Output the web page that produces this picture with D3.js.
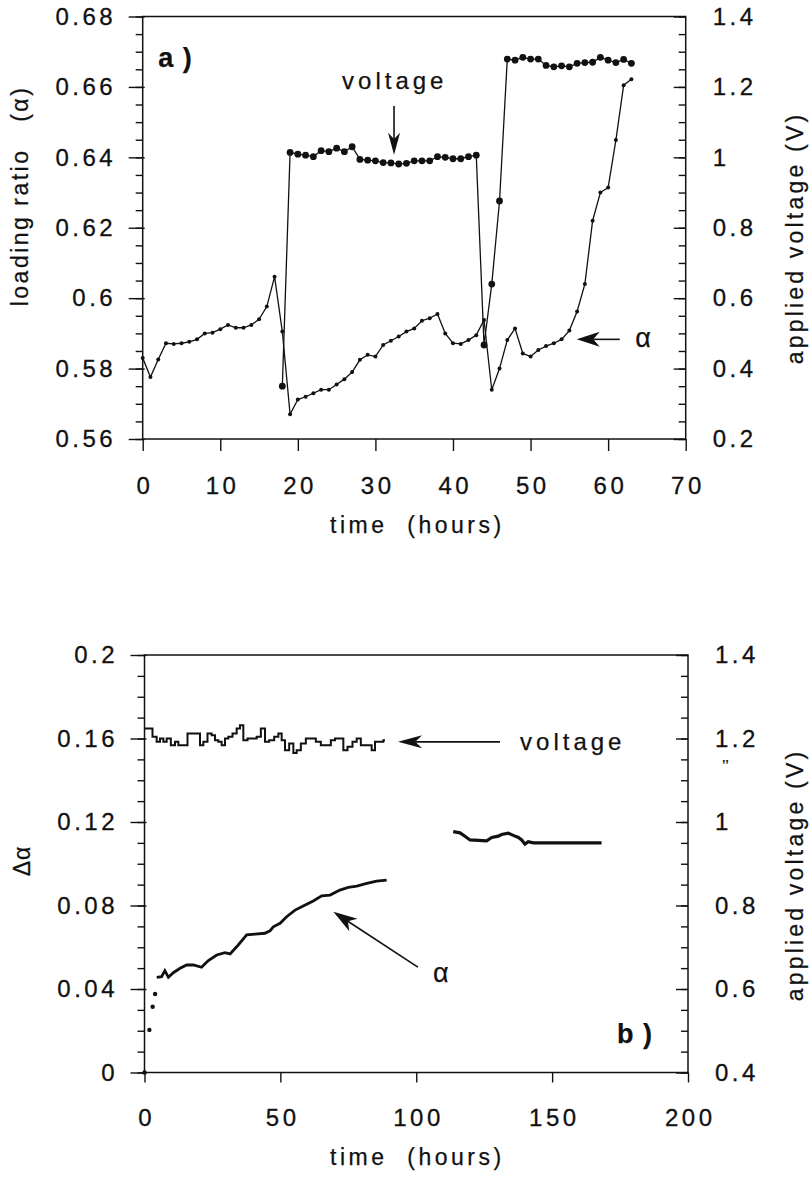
<!DOCTYPE html>
<html>
<head>
<meta charset="utf-8">
<script src="https://cdn.jsdelivr.net/npm/d3@7"></script>
<style>
body { margin: 0; background: #fff; }
text { font-family: "Liberation Sans", Arial, Helvetica, sans-serif; fill: #111; white-space: pre; }
</style>
</head>
<body>
<div id="chart"></div>
<script>
// ---- panel a) : hourly readings, loading ratio and applied voltage
var hoursA = [0, 1, 2, 3, 4, 5, 6, 7, 8, 9, 10, 11, 12, 13, 14, 15, 16, 17, 18, 19,
    20, 21, 22, 23, 24, 25, 26, 27, 28, 29, 30, 31, 32, 33, 34, 35, 36, 37, 38, 39,
    40, 41, 42, 43, 44, 45, 46, 47, 48, 49, 50, 51, 52, 53, 54, 55, 56, 57, 58, 59,
    60, 61, 62, 63];
var alphaA = [0.583, 0.5776, 0.5826, 0.5872, 0.587, 0.5872, 0.5876, 0.5883, 0.590, 0.5902,
    0.5912, 0.5924, 0.5916, 0.5916, 0.5924, 0.594, 0.5976, 0.6061, 0.5905, 0.567,
    0.5712, 0.572, 0.573, 0.574, 0.574, 0.5755, 0.577, 0.579, 0.5825, 0.5839,
    0.5834, 0.5867, 0.5879, 0.5891, 0.5905, 0.5914, 0.5936, 0.5943, 0.5955, 0.590,
    0.5872, 0.587, 0.5881, 0.5895, 0.5938, 0.574, 0.580, 0.5881, 0.5914, 0.5843,
    0.5834, 0.5853, 0.5864, 0.5872, 0.5883, 0.5908, 0.5962, 0.604, 0.622, 0.630,
    0.6314, 0.6449, 0.6605, 0.6622];
var voltHoursA = [18, 19, 20, 21, 22, 23, 24, 25, 26, 27, 28, 29, 30, 31, 32, 33, 34, 35,
    36, 37, 38, 39, 40, 41, 42, 43, 44, 45, 46, 47, 48, 49, 50, 51, 52, 53, 54, 55,
    56, 57, 58, 59, 60, 61, 62, 63];
var voltA = [0.35, 1.014, 1.009, 1.006, 1.002, 1.019, 1.016, 1.026, 1.016, 1.030,
    0.994, 0.992, 0.990, 0.985, 0.984, 0.981, 0.983, 0.990, 0.990, 0.990,
    1.002, 1.000, 0.996, 0.996, 1.002, 1.006, 0.467, 0.640, 0.876, 1.279,
    1.276, 1.284, 1.279, 1.279, 1.261, 1.257, 1.260, 1.257, 1.267, 1.269,
    1.270, 1.284, 1.276, 1.269, 1.278, 1.267];

// ---- panel b) : long run, change in loading ratio and applied voltage
var hoursB = [0, 1.8, 3.0, 3.9, 4.5, 6.3, 7.5, 8.8, 10.6, 13.1, 15.5, 18.0, 21.0, 23.5,
    26.6, 29.6, 31.5, 34.5, 37.6, 40.7, 44.3, 46.2, 47.4, 49.9, 52.3, 55.4, 58.4,
    62.1, 65.2, 68.3, 71.9, 75.0, 78.1, 81.8, 85.4, 89.1];
var dAlphaB = [0, 0.0204, 0.0315, 0.0376, 0.0456, 0.0459, 0.0488, 0.0456, 0.0478, 0.0499,
    0.0515, 0.0515, 0.0504, 0.0536, 0.0563, 0.0574, 0.0568, 0.0611, 0.0659, 0.0663,
    0.0667, 0.0679, 0.0698, 0.0715, 0.0746, 0.0778, 0.0798, 0.0822, 0.0846, 0.0850,
    0.0874, 0.0887, 0.0893, 0.0906, 0.0917, 0.0922];
var voltHoursB1 = [0.18, 2.02, 3.86, 5.09, 6.32, 7.54, 8.77, 10.61, 11.84, 13.06, 14.90,
    16.74, 18.58, 19.81, 21.04, 22.26, 24.10, 25.33, 26.56, 27.78, 29.01, 30.24,
    31.46, 33.30, 34.53, 35.76, 36.98, 38.82, 40.66, 41.89, 43.73, 44.96, 46.80,
    48.64, 49.86, 51.09, 52.32, 54.16, 55.38, 56.61, 58.45, 60.29, 62.13, 63.97,
    65.81, 67.65, 69.49, 70.72, 72.56, 73.78, 75.62, 77.46, 78.69, 80.53, 82.98,
    84.21, 85.44, 87.27, 88.50];
var voltB1 = [1.224, 1.224, 1.204, 1.192, 1.200, 1.192, 1.200, 1.184, 1.192, 1.184, 1.184,
    1.212, 1.212, 1.212, 1.184, 1.192, 1.212, 1.208, 1.196, 1.192, 1.184, 1.200,
    1.204, 1.212, 1.224, 1.232, 1.196, 1.200, 1.200, 1.204, 1.224, 1.192, 1.196,
    1.204, 1.212, 1.196, 1.172, 1.188, 1.165, 1.172, 1.188, 1.200, 1.200, 1.192,
    1.184, 1.184, 1.196, 1.200, 1.200, 1.172, 1.180, 1.192, 1.200, 1.184, 1.184,
    1.172, 1.192, 1.192, 1.196];
var voltHoursB2 = [113.6, 116.1, 117.9, 119.8, 125.9, 127.8, 130.2, 131.4, 133.9, 135.7,
    137.6, 138.8, 140.0, 141.2, 143.1, 149.2, 155.4, 161.5, 168.2];
var voltB2 = [0.977, 0.974, 0.966, 0.957, 0.955, 0.963, 0.966, 0.970, 0.973, 0.968,
    0.963, 0.957, 0.947, 0.953, 0.950, 0.950, 0.950, 0.950, 0.950];

var W = 810, H = 1179;
var font = '"Liberation Sans", Arial, Helvetica, sans-serif';
var ink = "#111";

var svg = d3.select("#chart")
    .append("svg")
        .attr("width", W)
        .attr("height", H);

function steps(lo, hi, step) {
    // Evenly spaced tick values, rounded to avoid float noise
    var n = Math.round((hi - lo) / step);
    return d3.range(n + 1).map(function (i) { return +(lo + i * step).toFixed(6); });
}

function fmt(v) { return +v.toFixed(4) + ""; }

function drawArrow(g, x1, y1, x2, y2, len, half) {
    // Line from (x1,y1) with a filled, notched head at (x2,y2)
    var dx = x2 - x1, dy = y2 - y1, d = Math.sqrt(dx * dx + dy * dy);
    var ux = dx / d, uy = dy / d;
    var bx = x2 - ux * len, by = y2 - uy * len;
    var nx = x2 - ux * len * 0.72, ny = y2 - uy * len * 0.72;
    g.append("line")
        .attr("x1", x1).attr("y1", y1)
        .attr("x2", nx).attr("y2", ny)
        .attr("stroke", ink).attr("stroke-width", 1.6);
    g.append("path")
        .attr("d", "M" + x2 + "," + y2 +
            "L" + (bx - uy * half) + "," + (by + ux * half) +
            "L" + nx + "," + ny +
            "L" + (bx + uy * half) + "," + (by - ux * half) + "Z")
        .attr("fill", ink);
}

function drawFrame(p) {
    // Panel box, ticks and tick labels
    var g = svg.append("g");
    var x = d3.scaleLinear().domain(p.xDomain).range([p.left, p.right]);
    var yL = d3.scaleLinear().domain(p.yLDomain).range([p.bottom, p.top]);
    var yR = d3.scaleLinear().domain(p.yRDomain).range([p.bottom, p.top]);
    var ls = 3.5;

    // left minor + major ticks (outside)
    g.append("g").attr("transform", "translate(" + p.left + ",0)")
        .call(d3.axisLeft(yL).tickValues(steps(p.yLDomain[0], p.yLDomain[1], p.yLMinor))
            .tickSize(7).tickSizeOuter(0).tickFormat(""));
    g.append("g").attr("class", "yl").attr("transform", "translate(" + p.left + ",0)")
        .call(d3.axisLeft(yL).tickValues(steps(p.yLDomain[0], p.yLDomain[1], p.yLMajor))
            .tickSize(14).tickSizeOuter(0).tickPadding(16 - ls).tickFormat(fmt));

    // right minor + major ticks (inside)
    g.append("g").attr("transform", "translate(" + p.right + ",0)")
        .call(d3.axisRight(yR).tickValues(steps(p.yRDomain[0], p.yRDomain[1], p.yRMinor))
            .tickSize(-7).tickSizeOuter(0).tickFormat(""));
    g.append("g").attr("class", "yr").attr("transform", "translate(" + p.right + ",0)")
        .call(d3.axisRight(yR).tickValues(steps(p.yRDomain[0], p.yRDomain[1], p.yRMajor))
            .tickSize(-12).tickSizeOuter(0).tickPadding(27).tickFormat(fmt));

    // bottom ticks (outside)
    g.append("g").attr("class", "xb").attr("transform", "translate(0," + p.bottom + ")")
        .call(d3.axisBottom(x).tickValues(steps(p.xDomain[0], p.xDomain[1], p.xMajor))
            .tickSize(p.xTick).tickSizeOuter(0).tickPadding(p.xPad).tickFormat(fmt));

    g.selectAll(".domain").remove();
    g.selectAll(".tick line").attr("stroke", ink).attr("stroke-width", 1.4);
    g.selectAll(".tick text")
        .attr("font-family", font)
        .style("font-size", "24px")
        .style("letter-spacing", ls + "px")
        .attr("fill", ink)
        .attr("stroke", ink).attr("stroke-width", 0.3);
    g.selectAll(".xb .tick text").attr("dx", ls / 2);

    // major left tick crosses slightly into the plot
    g.selectAll(".yl .tick line").attr("x2", -14).attr("x1", 2);

    g.append("rect")
        .attr("x", p.left).attr("y", p.top)
        .attr("width", p.right - p.left).attr("height", p.bottom - p.top)
        .attr("fill", "none").attr("stroke", ink).attr("stroke-width", 1.5);

    return { x: x, yL: yL, yR: yR };
}

function addRotLabel(x, y, text, size, spacing) {
    svg.append("text")
        .attr("font-family", font)
        .style("font-size", size + "px")
        .style("letter-spacing", spacing + "px")
        .attr("stroke", ink).attr("stroke-width", 0.25)
        .attr("text-anchor", "middle")
        .attr("transform", "translate(" + x + "," + y + ") rotate(-90)")
        .text(text);
}

function addText(x, y, text, size, spacing, weight) {
    svg.append("text")
        .attr("font-family", font)
        .style("font-size", size + "px")
        .style("letter-spacing", spacing + "px")
        .style("font-weight", weight || "normal")
        .attr("stroke", ink).attr("stroke-width", 0.25)
        .attr("x", x).attr("y", y)
        .text(text);
}

// ================= panel a =================
var pa = drawFrame({
    left: 142.7, right: 685.7, top: 16.5, bottom: 439,
    xDomain: [0, 70], xMajor: 10, xTick: 12, xPad: 26,
    yLDomain: [0.56, 0.68], yLMajor: 0.02, yLMinor: 0.005,
    yRDomain: [0.2, 1.4], yRMajor: 0.2, yRMinor: 0.05
});

var lineAlphaA = d3.line()
    .x(function (d, i) { return pa.x(hoursA[i]); })
    .y(function (d) { return pa.yL(d); });
svg.append("path")
    .datum(alphaA)
    .attr("fill", "none").attr("stroke", ink).attr("stroke-width", 1.3)
    .attr("d", lineAlphaA);
svg.append("g").selectAll("circle")
    .data(alphaA).enter().append("circle")
    .attr("cx", function (d, i) { return pa.x(hoursA[i]); })
    .attr("cy", function (d) { return pa.yL(d); })
    .attr("r", 2).attr("fill", ink);

var lineVoltA = d3.line()
    .x(function (d, i) { return pa.x(voltHoursA[i]); })
    .y(function (d) { return pa.yR(d); });
svg.append("path")
    .datum(voltA)
    .attr("fill", "none").attr("stroke", ink).attr("stroke-width", 1.3)
    .attr("d", lineVoltA);
svg.append("g").selectAll("circle")
    .data(voltA).enter().append("circle")
    .attr("cx", function (d, i) { return pa.x(voltHoursA[i]); })
    .attr("cy", function (d) { return pa.yR(d); })
    .attr("r", 3.4).attr("fill", ink);

// annotations, placed in data units
addText(pa.x(2.0), pa.yL(0.6657), "a )", 27, 1, "bold");
addText(pa.x(25.7), pa.yR(1.194), "voltage", 24, 4);
drawArrow(svg, pa.x(32.4), pa.yR(1.146), pa.x(32.4), pa.yR(1.007), 22, 6);
drawArrow(svg, pa.x(61.5), pa.yL(0.5883), pa.x(55.95), pa.yL(0.5883), 23, 7.5);
addText(pa.x(63.5), pa.yL(0.5861), "α", 27, 0);

addRotLabel(28, 196, "loading ratio   (α)", 23, 2.5);
addRotLabel(803, 238, "applied voltage (V)", 23, 3.2);
addText(330, 533, "time  (hours)", 23, 3.5);

// ================= panel b =================
var pb = drawFrame({
    left: 144.5, right: 688, top: 655, bottom: 1072.5,
    xDomain: [0, 200], xMajor: 50, xTick: 10, xPad: 26,
    yLDomain: [0, 0.2], yLMajor: 0.04, yLMinor: 0.01,
    yRDomain: [0.4, 1.4], yRMajor: 0.2, yRMinor: 0.05
});

// first few alpha readings are isolated dots, the rest a dense trace
svg.append("g").selectAll("circle")
    .data(dAlphaB.slice(0, 4)).enter().append("circle")
    .attr("cx", function (d, i) { return pb.x(hoursB[i]); })
    .attr("cy", function (d) { return pb.yL(d); })
    .attr("r", 2.2).attr("fill", ink);
var lineAlphaB = d3.line()
    .x(function (d) { return pb.x(d.t); })
    .y(function (d) { return pb.yL(d.v); });
var traceB = dAlphaB.map(function (v, i) { return { t: hoursB[i], v: v }; }).slice(4);
svg.append("path")
    .datum(traceB)
    .attr("fill", "none").attr("stroke", ink).attr("stroke-width", 2.8)
    .attr("d", lineAlphaB);

var lineVoltB = d3.line()
    .x(function (d) { return pb.x(d.t); })
    .y(function (d) { return pb.yR(d.v); })
    .curve(d3.curveStep);
svg.append("path")
    .datum(voltB1.map(function (v, i) { return { t: voltHoursB1[i], v: v }; }))
    .attr("fill", "none").attr("stroke", ink).attr("stroke-width", 2)
    .attr("d", lineVoltB);
svg.append("path")
    .datum(voltB2.map(function (v, i) { return { t: voltHoursB2[i], v: v }; }))
    .attr("fill", "none").attr("stroke", ink).attr("stroke-width", 3.2)
    .attr("d", lineVoltB.curve(d3.curveLinear));

drawArrow(svg, pb.x(130.8), pb.yR(1.192), pb.x(93.3), pb.yR(1.192), 24, 6.5);
addText(pb.x(138.2), pb.yR(1.172), "voltage", 24, 4);
drawArrow(svg, pb.x(100.6), pb.yL(0.0505), pb.x(69.5), pb.yL(0.0770), 24, 7.5);
addText(pb.x(106.2), pb.yL(0.0434), "α", 27, 0);
addText(pb.x(173.9), pb.yL(0.0141), "b )", 27, 1, "bold");
addText(722, 772, "’’", 16, 0);

addRotLabel(30, 861, "Δα", 23, 1);
addRotLabel(803, 875, "applied voltage (V)", 23, 3.2);
addText(330, 1165, "time  (hours)", 23, 3.5);
</script>
</body>
</html>
